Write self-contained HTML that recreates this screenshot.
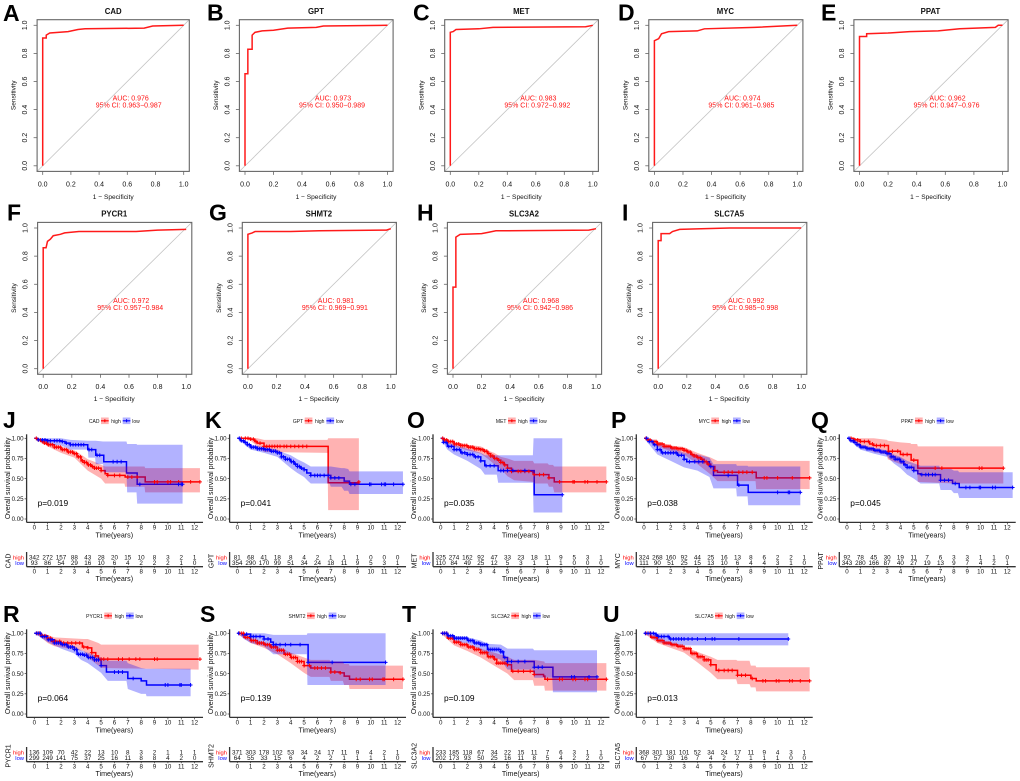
<!DOCTYPE html>
<html lang="en">
<head>
<meta charset="utf-8">
<title>ROC and Kaplan-Meier panels</title>
<style>
html,body{margin:0;padding:0;background:#fff;}
#figure{display:block;width:1020px;height:781px;font-family:"Liberation Sans",Arial,sans-serif;}
.letter{font-size:23px;font-weight:bold;fill:#000;}
.rt{font-size:7.8px;font-weight:bold;text-anchor:middle;fill:#111;}
.ra{font-size:7px;text-anchor:middle;fill:#f11;}
.rl{font-size:6.6px;text-anchor:middle;fill:#111;}
.rtick{font-size:7px;text-anchor:middle;fill:#111;}
.kt{font-size:7.1px;text-anchor:middle;fill:#111;}
.ky{font-size:7px;text-anchor:middle;fill:#111;}
.kg{font-size:5px;text-anchor:end;fill:#111;}
.kl{font-size:5px;text-anchor:middle;fill:#111;}
.kp{font-size:8.4px;fill:#000;}
.ktick{font-size:6.2px;fill:#111;}
.hi{font-size:5.8px;text-anchor:end;fill:#f00;}
.lo{font-size:5.8px;text-anchor:end;fill:#00f;}
.kr{font-size:6.3px;text-anchor:middle;fill:#111;}
</style>
</head>
<body>
<svg id="figure" xmlns="http://www.w3.org/2000/svg" width="1020" height="781" viewBox="0 0 1020 781">
<text class="letter" x="3" y="21">A</text>
<text class="letter" x="207" y="20.5">B</text>
<text class="letter" x="413" y="20.5">C</text>
<text class="letter" x="618" y="20.5">D</text>
<text class="letter" x="821" y="20.5">E</text>
<text class="letter" x="7" y="220.5">F</text>
<text class="letter" x="209" y="220.5">G</text>
<text class="letter" x="417" y="220.5">H</text>
<text class="letter" x="622" y="220.5">I</text>
<text class="letter" x="3" y="428">J</text>
<text class="letter" x="205" y="428">K</text>
<text class="letter" x="407" y="428">O</text>
<text class="letter" x="611" y="428">P</text>
<text class="letter" x="811" y="428">Q</text>
<text class="letter" x="3" y="622">R</text>
<text class="letter" x="200" y="622">S</text>
<text class="letter" x="402" y="622">T</text>
<text class="letter" x="603" y="622">U</text>

<g id="roc-cad" transform="translate(42.7,25.3)">
<text class="rt" x="70.5" y="-11.5">CAD</text>
<text class="ra" x="88" y="75">AUC: 0.976</text>
<text class="ra" x="86" y="82">95% CI: 0.963−0.987</text>
<text class="rl" x="70.5" y="173.5">1 − Specificity</text>
<text class="rl" transform="translate(-27,70) rotate(-90)">Sensitivity</text>
</g>
<g id="roc-gpt" transform="translate(245,25.3)">
<text class="rt" x="71" y="-11.5">GPT</text>
<text class="ra" x="88" y="75">AUC: 0.973</text>
<text class="ra" x="87" y="82">95% CI: 0.950−0.989</text>
<text class="rl" x="71" y="173.5">1 − Specificity</text>
<text class="rl" transform="translate(-27,70) rotate(-90)">Sensitivity</text>
</g>
<g id="roc-met" transform="translate(450.3,25.3)">
<text class="rt" x="71" y="-11.5">MET</text>
<text class="ra" x="88" y="75">AUC: 0.983</text>
<text class="ra" x="87" y="82">95% CI: 0.972−0.992</text>
<text class="rl" x="71" y="173.5">1 − Specificity</text>
<text class="rl" transform="translate(-27,70) rotate(-90)">Sensitivity</text>
</g>
<g id="roc-myc" transform="translate(654.4,25.3)">
<text class="rt" x="71" y="-11.5">MYC</text>
<text class="ra" x="88" y="75">AUC: 0.974</text>
<text class="ra" x="87" y="82">95% CI: 0.961−0.985</text>
<text class="rl" x="71" y="173.5">1 − Specificity</text>
<text class="rl" transform="translate(-27,70) rotate(-90)">Sensitivity</text>
</g>
<g id="roc-ppat" transform="translate(859.5,25.3)">
<text class="rt" x="71" y="-11.5">PPAT</text>
<text class="ra" x="88" y="75">AUC: 0.962</text>
<text class="ra" x="87" y="82">95% CI: 0.947−0.976</text>
<text class="rl" x="71" y="173.5">1 − Specificity</text>
<text class="rl" transform="translate(-27,70) rotate(-90)">Sensitivity</text>
</g>
<g id="roc-pycr1" transform="translate(43.2,228)">
<text class="rt" x="71" y="-11.5">PYCR1</text>
<text class="ra" x="88" y="75">AUC: 0.972</text>
<text class="ra" x="87" y="82">95% CI: 0.957−0.984</text>
<text class="rl" x="71" y="173">1 − Specificity</text>
<text class="rl" transform="translate(-27,70) rotate(-90)">Sensitivity</text>
</g>
<g id="roc-shmt2" transform="translate(247.9,228)">
<text class="rt" x="71" y="-11.5">SHMT2</text>
<text class="ra" x="88" y="75">AUC: 0.981</text>
<text class="ra" x="87" y="82">95% CI: 0.969−0.991</text>
<text class="rl" x="71" y="173">1 − Specificity</text>
<text class="rl" transform="translate(-27,70) rotate(-90)">Sensitivity</text>
</g>
<g id="roc-slc3a2" transform="translate(453,228)">
<text class="rt" x="71" y="-11.5">SLC3A2</text>
<text class="ra" x="88" y="75">AUC: 0.968</text>
<text class="ra" x="87" y="82">95% CI: 0.942−0.986</text>
<text class="rl" x="71" y="173">1 − Specificity</text>
<text class="rl" transform="translate(-27,70) rotate(-90)">Sensitivity</text>
</g>
<g id="roc-slc7a5" transform="translate(658.2,228)">
<text class="rt" x="71" y="-11.5">SLC7A5</text>
<text class="ra" x="88" y="75">AUC: 0.992</text>
<text class="ra" x="87" y="82">95% CI: 0.985−0.998</text>
<text class="rl" x="71" y="173">1 − Specificity</text>
<text class="rl" transform="translate(-27,70) rotate(-90)">Sensitivity</text>
</g>

<g id="km-cad" transform="translate(34.3,438.3)">
<text class="kg" x="65.2" y="-15.5">CAD</text>
<text class="kl" x="81.7" y="-15.5">high</text>
<text class="kl" x="101.7" y="-15.5">low</text>
<text class="kp" x="3.3" y="67.7">p=0.019</text>
<text class="ky" transform="translate(-24.5,40) rotate(-90)">Overall survival probability</text>
<text class="kt" x="80" y="99.2">Time(years)</text>
<text class="ky" transform="translate(-24,122.7) rotate(-90)">CAD</text>
<text class="hi" x="-10.3" y="121">high</text>
<text class="lo" x="-10.3" y="126.7">low</text>
<text class="kt" x="80" y="142.5">Time(years)</text>
</g>
<g id="km-gpt" transform="translate(237.3,438.3)">
<text class="kg" x="65.9" y="-15.5">GPT</text>
<text class="kl" x="82.4" y="-15.5">high</text>
<text class="kl" x="102.4" y="-15.5">low</text>
<text class="kp" x="3.3" y="67.7">p=0.041</text>
<text class="ky" transform="translate(-24.5,40) rotate(-90)">Overall survival probability</text>
<text class="kt" x="80" y="99.2">Time(years)</text>
<text class="ky" transform="translate(-24,122.7) rotate(-90)">GPT</text>
<text class="hi" x="-10.3" y="121">high</text>
<text class="lo" x="-10.3" y="126.7">low</text>
<text class="kt" x="80" y="142.5">Time(years)</text>
</g>
<g id="km-met" transform="translate(440.7,438.3)">
<text class="kg" x="65.8" y="-15.5">MET</text>
<text class="kl" x="82.3" y="-15.5">high</text>
<text class="kl" x="102.3" y="-15.5">low</text>
<text class="kp" x="3.3" y="67.7">p=0.035</text>
<text class="ky" transform="translate(-24.5,40) rotate(-90)">Overall survival probability</text>
<text class="kt" x="80" y="99.2">Time(years)</text>
<text class="ky" transform="translate(-24,122.7) rotate(-90)">MET</text>
<text class="hi" x="-10.3" y="121">high</text>
<text class="lo" x="-10.3" y="126.7">low</text>
<text class="kt" x="80" y="142.5">Time(years)</text>
</g>
<g id="km-myc" transform="translate(644,438.3)">
<text class="kg" x="65.8" y="-15.5">MYC</text>
<text class="kl" x="82.3" y="-15.5">high</text>
<text class="kl" x="102.3" y="-15.5">low</text>
<text class="kp" x="3.3" y="67.7">p=0.038</text>
<text class="ky" transform="translate(-24.5,40) rotate(-90)">Overall survival probability</text>
<text class="kt" x="80" y="99.2">Time(years)</text>
<text class="ky" transform="translate(-24,122.7) rotate(-90)">MYC</text>
<text class="hi" x="-10.3" y="121">high</text>
<text class="lo" x="-10.3" y="126.7">low</text>
<text class="kt" x="80" y="142.5">Time(years)</text>
</g>
<g id="km-ppat" transform="translate(847,438.3)">
<text class="kg" x="66.5" y="-15.5">PPAT</text>
<text class="kl" x="83" y="-15.5">high</text>
<text class="kl" x="103" y="-15.5">low</text>
<text class="kp" x="3.3" y="67.7">p=0.045</text>
<text class="ky" transform="translate(-24.5,40) rotate(-90)">Overall survival probability</text>
<text class="kt" x="80" y="99.2">Time(years)</text>
<text class="ky" transform="translate(-24,122.7) rotate(-90)">PPAT</text>
<text class="hi" x="-10.3" y="121">high</text>
<text class="lo" x="-10.3" y="126.7">low</text>
<text class="kt" x="80" y="142.5">Time(years)</text>
</g>
<g id="km-pycr1" transform="translate(34.3,633.3)">
<text class="kg" x="68.5" y="-15.5">PYCR1</text>
<text class="kl" x="85" y="-15.5">high</text>
<text class="kl" x="105" y="-15.5">low</text>
<text class="kp" x="3.3" y="67.7">p=0.064</text>
<text class="ky" transform="translate(-24.5,40) rotate(-90)">Overall survival probability</text>
<text class="kt" x="80" y="99.2">Time(years)</text>
<text class="ky" transform="translate(-24,122.7) rotate(-90)">PYCR1</text>
<text class="hi" x="-10.3" y="121">high</text>
<text class="lo" x="-10.3" y="126.7">low</text>
<text class="kt" x="80" y="142.5">Time(years)</text>
</g>
<g id="km-shmt2" transform="translate(237.3,633.3)">
<text class="kg" x="68.2" y="-15.5">SHMT2</text>
<text class="kl" x="84.7" y="-15.5">high</text>
<text class="kl" x="104.7" y="-15.5">low</text>
<text class="kp" x="3.3" y="67.7">p=0.139</text>
<text class="ky" transform="translate(-24.5,40) rotate(-90)">Overall survival probability</text>
<text class="kt" x="80" y="99.2">Time(years)</text>
<text class="ky" transform="translate(-24,122.7) rotate(-90)">SHMT2</text>
<text class="hi" x="-10.3" y="121">high</text>
<text class="lo" x="-10.3" y="126.7">low</text>
<text class="kt" x="80" y="142.5">Time(years)</text>
</g>
<g id="km-slc3a2" transform="translate(440.7,633.3)">
<text class="kg" x="69.1" y="-15.5">SLC3A2</text>
<text class="kl" x="85.6" y="-15.5">high</text>
<text class="kl" x="105.6" y="-15.5">low</text>
<text class="kp" x="3.3" y="67.7">p=0.109</text>
<text class="ky" transform="translate(-24.5,40) rotate(-90)">Overall survival probability</text>
<text class="kt" x="80" y="99.2">Time(years)</text>
<text class="ky" transform="translate(-24,122.7) rotate(-90)">SLC3A2</text>
<text class="hi" x="-10.3" y="121">high</text>
<text class="lo" x="-10.3" y="126.7">low</text>
<text class="kt" x="80" y="142.5">Time(years)</text>
</g>
<g id="km-slc7a5" transform="translate(644,633.3)">
<text class="kg" x="69.5" y="-15.5">SLC7A5</text>
<text class="kl" x="86" y="-15.5">high</text>
<text class="kl" x="106" y="-15.5">low</text>
<text class="kp" x="3.3" y="67.7">p=0.013</text>
<text class="ky" transform="translate(-24.5,40) rotate(-90)">Overall survival probability</text>
<text class="kt" x="80" y="99.2">Time(years)</text>
<text class="ky" transform="translate(-24,122.7) rotate(-90)">SLC7A5</text>
<text class="hi" x="-10.3" y="121">high</text>
<text class="lo" x="-10.3" y="126.7">low</text>
<text class="kt" x="80" y="142.5">Time(years)</text>
</g>
</svg>
<script>
// ---------- ROC data ----------
const rocTicks = [0, 0.2, 0.4, 0.6, 0.8, 1];
const rocTickLabels = ['0.0', '0.2', '0.4', '0.6', '0.8', '1.0'];
const rocCadFpr = [0, 0, 0.025, 0.025, 0.05, 0.18, 0.25, 0.3, 0.72, 0.78, 1];
const rocCadTpr = [0, 0.91, 0.91, 0.93, 0.945, 0.955, 0.97, 0.975, 0.98, 0.995, 1];
const rocGptFpr = [0, 0, 0.02, 0.02, 0.05, 0.05, 0.07, 0.12, 0.2, 0.3, 0.5, 0.55, 1];
const rocGptTpr = [0, 0.655, 0.655, 0.83, 0.83, 0.93, 0.95, 0.96, 0.965, 0.98, 0.985, 0.995, 1];
const rocMetFpr = [0, 0, 0.02, 0.04, 0.2, 0.3, 0.95, 1];
const rocMetTpr = [0, 0.95, 0.955, 0.97, 0.975, 0.985, 0.99, 1];
const rocMycFpr = [0, 0, 0.03, 0.05, 0.1, 0.3, 0.35, 0.7, 1];
const rocMycTpr = [0, 0.89, 0.905, 0.94, 0.955, 0.96, 0.975, 0.985, 1];
const rocPpatFpr = [0, 0, 0.05, 0.05, 0.2, 0.35, 0.55, 0.7, 0.95, 0.97, 1];
const rocPpatTpr = [0, 0.92, 0.92, 0.94, 0.945, 0.955, 0.96, 0.975, 0.985, 1, 1];
const rocPycr1Fpr = [0, 0, 0.02, 0.03, 0.05, 0.07, 0.12, 0.15, 0.25, 0.65, 0.8, 1];
const rocPycr1Tpr = [0, 0.86, 0.86, 0.905, 0.92, 0.945, 0.955, 0.965, 0.975, 0.975, 0.985, 0.99];
const rocShmt2Fpr = [0, 0, 0.03, 0.05, 0.3, 0.5, 0.97, 1];
const rocShmt2Tpr = [0, 0.955, 0.965, 0.975, 0.975, 0.98, 0.985, 0.995];
const rocSlc3a2Fpr = [0, 0, 0.02, 0.02, 0.05, 0.2, 0.25, 0.3, 0.95, 1];
const rocSlc3a2Tpr = [0, 0.58, 0.58, 0.935, 0.955, 0.96, 0.97, 0.98, 0.985, 0.995];
const rocSlc7a5Fpr = [0, 0, 0.02, 0.02, 0.08, 0.1, 0.15, 0.3, 0.5, 1];
const rocSlc7a5Tpr = [0, 0.91, 0.91, 0.96, 0.96, 0.975, 0.99, 0.995, 1, 1];

// ---------- Survival axes ----------
const kmTimeTicks = [0, 1, 2, 3, 4, 5, 6, 7, 8, 9, 10, 11, 12];
const kmProbTicks = [0, 0.25, 0.5, 0.75, 1];
const kmProbLabels = ['0.00', '0.25', '0.50', '0.75', '1.00'];
const earlyCensorTimes = [0.15, 0.3, 0.45, 0.6, 0.75, 0.9, 1.05, 1.2, 1.35, 1.5, 1.65, 1.8, 1.95, 2.1, 2.25, 2.4, 2.55, 2.7, 2.85, 3, 3.15, 3.3, 3.45, 3.6, 3.75, 3.9, 4.05, 4.2, 4.35, 4.5, 4.65, 4.8, 5];

// ---------- CAD ----------
const cadHighT = [0, 0.25, 0.5, 0.75, 1, 1.5, 2, 2.5, 2.9, 3.2, 3.5, 3.75, 4, 4.25, 4.5, 5, 5.3, 5.5, 6.8, 8.3, 12.4];
const cadHighS = [1, 0.98, 0.96, 0.94, 0.92, 0.89, 0.86, 0.83, 0.81, 0.77, 0.72, 0.7, 0.67, 0.65, 0.63, 0.6, 0.56, 0.54, 0.52, 0.46, 0.46];
const cadHighBandT = [0, 0.5, 1, 2, 3, 3.5, 4, 4.5, 5, 5.3, 6.75, 6.8, 8.25, 8.3, 12.4];
const cadHighU = [1, 0.98, 0.96, 0.9, 0.85, 0.8, 0.74, 0.71, 0.67, 0.65, 0.65, 0.65, 0.65, 0.63, 0.63];
const cadHighL = [1, 0.96, 0.9, 0.82, 0.76, 0.68, 0.6, 0.55, 0.5, 0.44, 0.44, 0.4, 0.4, 0.33, 0.33];
const cadHighCensor = earlyCensorTimes.concat([5.5, 6, 6.4, 7, 7.3, 7.7, 9, 9.2, 10, 10.2, 10.8, 11.7, 12.4]);
const cadLowT = [0, 0.25, 1, 2, 2.3, 2.7, 4, 4.6, 5.2, 6.9, 7.7, 11.1];
const cadLowS = [1, 0.98, 0.97, 0.96, 0.94, 0.92, 0.86, 0.79, 0.71, 0.57, 0.43, 0.43];
const cadLowBandT = [0, 0.5, 1, 2, 2.7, 4, 4.05, 4.55, 4.6, 5.15, 5.2, 6.9, 6.95, 7.65, 7.7, 11.1];
const cadLowU = [1, 1, 1, 1, 0.98, 0.97, 0.97, 0.97, 0.97, 0.96, 0.96, 0.96, 0.93, 0.93, 0.92, 0.92];
const cadLowL = [1, 0.95, 0.93, 0.91, 0.86, 0.86, 0.76, 0.76, 0.68, 0.68, 0.58, 0.58, 0.33, 0.33, 0.19, 0.19];
const cadLowCensor = [0.3, 0.6, 0.8, 1, 1.2, 1.5, 1.7, 1.9, 2.1, 2.4, 2.7, 2.9, 3.1, 3.3, 3.5, 3.7, 4.1, 4.3, 4.7, 4.9, 5.9, 6.2, 6.5, 7.9, 10.8, 11, 11.1];
const cadRiskHigh = ['342', '272', '157', '88', '43', '28', '20', '15', '10', '8', '3', '2', '1'];
const cadRiskLow = ['93', '86', '54', '29', '16', '10', '6', '4', '2', '2', '2', '1', '0'];

// ---------- GPT ----------
const gptHighT = [0, 0.5, 1, 1.3, 1.5, 2, 6.8, 9.1];
const gptHighS = [1, 1, 0.99, 0.96, 0.94, 0.9, 0.45, 0.46];
const gptHighBandT = [0, 0.5, 1, 1.5, 2, 6.75, 6.8, 9.1];
const gptHighU = [1, 1, 1, 1, 0.98, 0.98, 1, 1];
const gptHighL = [1, 0.99, 0.97, 0.9, 0.83, 0.82, 0.11, 0.11];
const gptHighCensor = [0.3, 0.6, 0.8, 1, 1.2, 1.4, 1.7, 2, 2.2, 2.4, 2.6, 2.8, 3, 3.2, 3.5, 3.7, 4, 4.3, 4.6, 4.9, 5.2, 9.1];
const gptLowT = [0, 0.25, 0.5, 0.75, 1, 1.5, 2, 2.5, 3, 3.3, 3.6, 4, 4.25, 4.5, 4.75, 5, 5.2, 5.5, 7, 8, 8.4, 12.4];
const gptLowS = [1, 0.97, 0.95, 0.92, 0.89, 0.87, 0.86, 0.84, 0.82, 0.77, 0.74, 0.71, 0.68, 0.65, 0.63, 0.61, 0.57, 0.54, 0.51, 0.47, 0.43, 0.43];
const gptLowBandT = [0, 0.5, 1, 2, 3, 3.5, 4, 4.5, 5, 5.3, 5.5, 6.9, 7, 7.8, 8, 8.3, 8.4, 12.4];
const gptLowU = [1, 0.97, 0.92, 0.89, 0.86, 0.82, 0.79, 0.74, 0.7, 0.67, 0.65, 0.65, 0.65, 0.63, 0.63, 0.62, 0.59, 0.59];
const gptLowL = [1, 0.93, 0.86, 0.82, 0.77, 0.7, 0.63, 0.57, 0.52, 0.47, 0.44, 0.44, 0.4, 0.4, 0.35, 0.35, 0.31, 0.31];
const gptLowCensor = earlyCensorTimes.concat([5.5, 5.8, 6, 6.2, 6.5, 6.8, 7, 7.3, 7.6, 8.5, 8.8, 9.9, 10, 10.8, 11, 11.1, 11.7, 12.4]);
const gptRiskHigh = ['81', '68', '41', '18', '8', '4', '2', '1', '1', '1', '0', '0', '0'];
const gptRiskLow = ['354', '290', '170', '99', '51', '34', '24', '18', '11', '9', '5', '3', '1'];

// ---------- MET ----------
const metHighT = [0, 0.25, 0.5, 1, 1.5, 2, 2.5, 3, 3.25, 3.5, 3.75, 4, 4.25, 4.5, 4.75, 5, 5.3, 6.9, 7, 8.1, 8.5, 12.4];
const metHighS = [1, 0.98, 0.96, 0.93, 0.91, 0.89, 0.87, 0.86, 0.84, 0.81, 0.78, 0.75, 0.73, 0.7, 0.67, 0.63, 0.59, 0.57, 0.55, 0.51, 0.46, 0.46];
const metHighBandT = [0, 0.5, 1, 2, 3, 3.5, 4, 4.5, 5, 5.5, 6.9, 7, 8, 8.1, 8.4, 8.5, 12.4];
const metHighU = [1, 0.98, 0.95, 0.92, 0.9, 0.85, 0.82, 0.77, 0.75, 0.72, 0.72, 0.69, 0.69, 0.67, 0.67, 0.65, 0.65];
const metHighL = [1, 0.94, 0.9, 0.85, 0.81, 0.75, 0.68, 0.62, 0.53, 0.48, 0.46, 0.44, 0.44, 0.4, 0.4, 0.33, 0.33];
const metHighCensor = earlyCensorTimes.concat([5.3, 5.8, 6, 6.3, 6.6, 7, 7.4, 7.7, 8.1, 8.9, 9.9, 10, 10.8, 11, 11.7, 12.4]);
const metLowT = [0, 0.2, 0.5, 1, 1.5, 2, 2.5, 3, 3.3, 4.3, 7, 9.1];
const metLowS = [1, 0.95, 0.9, 0.86, 0.82, 0.8, 0.77, 0.72, 0.66, 0.6, 0.3, 0.3];
const metLowBandT = [0, 0.5, 1, 2, 3, 3.3, 4.2, 4.3, 6.9, 6.95, 9.1];
const metLowU = [1, 0.95, 0.92, 0.87, 0.82, 0.79, 0.79, 0.79, 0.79, 1, 1];
const metLowL = [1, 0.86, 0.8, 0.72, 0.62, 0.55, 0.55, 0.45, 0.45, 0.08, 0.08];
const metLowCensor = [0.2, 0.4, 0.6, 0.8, 1, 1.2, 1.4, 1.6, 1.8, 2, 2.2, 2.4, 2.6, 2.8, 3, 3.4, 3.7, 4, 4.5, 4.7, 5, 5.4, 6.3, 9.1];
const metRiskHigh = ['325', '274', '162', '92', '47', '33', '23', '18', '11', '9', '5', '3', '1'];
const metRiskLow = ['110', '84', '49', '25', '12', '5', '3', '1', '1', '1', '0', '0', '0'];

// ---------- MYC ----------
const mycHighT = [0, 0.25, 0.5, 1, 1.5, 2, 2.5, 3, 3.25, 3.5, 3.75, 4, 4.25, 4.5, 4.75, 5, 5.3, 5.5, 8.4, 12.4];
const mycHighS = [1, 0.98, 0.96, 0.93, 0.9, 0.88, 0.87, 0.85, 0.83, 0.8, 0.78, 0.76, 0.74, 0.71, 0.68, 0.65, 0.6, 0.58, 0.51, 0.51];
const mycHighBandT = [0, 1, 2, 3, 4, 5, 5.5, 8.35, 8.4, 12.4];
const mycHighU = [1, 0.96, 0.91, 0.89, 0.82, 0.76, 0.72, 0.72, 0.72, 0.72];
const mycHighL = [1, 0.9, 0.84, 0.8, 0.68, 0.55, 0.47, 0.47, 0.37, 0.37];
const mycHighCensor = earlyCensorTimes.concat([5.3, 6, 6.3, 6.6, 7.1, 7.4, 7.7, 8.1, 9, 9.2, 10, 11.1, 12.4]);
const mycLowT = [0, 0.3, 0.7, 1, 1.3, 2.3, 2.5, 3, 3.2, 4.2, 4.9, 5.2, 7, 7.8, 11.7];
const mycLowS = [1, 0.96, 0.92, 0.86, 0.82, 0.82, 0.79, 0.74, 0.71, 0.71, 0.65, 0.54, 0.42, 0.33, 0.33];
const mycLowBandT = [0, 0.5, 1, 2, 3, 4, 4.9, 5.2, 6.9, 6.95, 7.75, 7.8, 11.7];
const mycLowU = [1, 0.97, 0.93, 0.89, 0.82, 0.8, 0.76, 0.68, 0.68, 0.66, 0.66, 0.65, 0.65];
const mycLowL = [1, 0.9, 0.8, 0.72, 0.64, 0.6, 0.52, 0.38, 0.38, 0.28, 0.28, 0.17, 0.17];
const mycLowCensor = [0.2, 0.4, 0.6, 0.8, 1, 1.2, 1.4, 1.6, 1.8, 2, 2.2, 2.4, 2.6, 2.8, 3, 3.4, 3.8, 4.1, 4.4, 5, 6.3, 7.1, 10, 10.8, 10.9, 11.7];
const mycRiskHigh = ['324', '268', '160', '92', '44', '25', '16', '13', '8', '6', '2', '2', '1'];
const mycRiskLow = ['111', '90', '51', '25', '15', '13', '10', '6', '4', '4', '3', '1', '0'];

// ---------- PPAT ----------
const ppatHighT = [0, 0.5, 1, 1.7, 2, 3.1, 4, 4.8, 5.3, 11.7];
const ppatHighS = [1, 0.98, 0.96, 0.93, 0.91, 0.84, 0.8, 0.73, 0.63, 0.63];
const ppatHighBandT = [0, 0.5, 2, 3, 3.05, 4, 4.75, 4.8, 5.25, 5.3, 8, 11.7];
const ppatHighU = [1, 1, 1, 0.98, 0.97, 0.95, 0.94, 0.93, 0.93, 0.9, 0.9, 0.9];
const ppatHighL = [1, 0.95, 0.83, 0.8, 0.74, 0.68, 0.68, 0.6, 0.6, 0.46, 0.44, 0.44];
const ppatHighCensor = [0.3, 0.6, 0.8, 1, 1.3, 1.6, 1.9, 2.2, 2.5, 2.8, 3.1, 3.4, 3.8, 4.2, 4.5, 5, 6.6, 7.1, 9.9, 10.1, 11.7];
const ppatLowT = [0, 0.25, 0.5, 0.75, 1, 1.5, 2, 2.5, 3, 3.3, 3.6, 4, 4.25, 4.5, 5, 5.3, 5.5, 7, 7.9, 8.4, 12.4];
const ppatLowS = [1, 0.97, 0.95, 0.92, 0.89, 0.87, 0.85, 0.83, 0.81, 0.77, 0.74, 0.71, 0.67, 0.64, 0.6, 0.56, 0.55, 0.48, 0.44, 0.39, 0.39];
const ppatLowBandT = [0, 1, 2, 3, 3.5, 4, 4.5, 5, 5.5, 6.9, 7, 7.8, 8, 8.3, 8.4, 12.4];
const ppatLowU = [1, 0.92, 0.88, 0.85, 0.8, 0.77, 0.72, 0.69, 0.66, 0.66, 0.62, 0.62, 0.6, 0.6, 0.58, 0.58];
const ppatLowL = [1, 0.86, 0.81, 0.77, 0.69, 0.63, 0.55, 0.5, 0.44, 0.44, 0.36, 0.36, 0.32, 0.32, 0.26, 0.26];
const ppatLowCensor = earlyCensorTimes.concat([5.6, 5.9, 6.1, 6.4, 6.6, 7, 7.3, 7.6, 8.1, 8.9, 9.2, 9.9, 10, 10.9, 11.1, 12.4]);
const ppatRiskHigh = ['92', '78', '45', '30', '19', '11', '7', '6', '3', '3', '1', '1', '0'];
const ppatRiskLow = ['343', '280', '166', '87', '40', '27', '19', '13', '9', '7', '4', '2', '1'];

// ---------- PYCR1 ----------
const pycr1HighT = [0, 0.5, 1, 1.3, 2, 3.6, 4, 4.3, 4.6, 4.8, 12.3];
const pycr1HighS = [1, 0.97, 0.94, 0.9, 0.88, 0.83, 0.82, 0.76, 0.72, 0.68, 0.68];
const pycr1HighBandT = [0, 0.5, 1, 1.5, 3.7, 4, 4.8, 5, 12.3];
const pycr1HighU = [1, 1, 0.98, 0.95, 0.93, 0.93, 0.88, 0.86, 0.86];
const pycr1HighL = [1, 0.95, 0.88, 0.84, 0.78, 0.7, 0.6, 0.57, 0.55];
const pycr1HighCensor = [0.2, 0.4, 0.6, 0.8, 1, 1.2, 1.4, 1.6, 1.9, 2.2, 2.5, 2.8, 3.1, 3.4, 3.7, 4, 4.3, 4.6, 5, 5.2, 5.5, 6.3, 6.6, 7.1, 7.6, 7.9, 9, 9.2, 12.4];
const pycr1LowT = [0, 0.5, 1, 1.5, 2, 2.5, 3, 3.2, 3.7, 4, 4.5, 5, 5.4, 7, 8, 8.4, 11.7];
const pycr1LowS = [1, 0.96, 0.92, 0.88, 0.86, 0.83, 0.8, 0.74, 0.73, 0.7, 0.67, 0.6, 0.52, 0.44, 0.41, 0.36, 0.36];
const pycr1LowBandT = [0, 1, 2, 3, 3.5, 4, 5, 5.5, 6.9, 7, 8, 8.35, 8.4, 11.7];
const pycr1LowU = [1, 0.95, 0.9, 0.84, 0.79, 0.76, 0.7, 0.66, 0.66, 0.63, 0.57, 0.56, 0.56, 0.56];
const pycr1LowL = [1, 0.89, 0.81, 0.75, 0.67, 0.63, 0.51, 0.41, 0.41, 0.31, 0.25, 0.25, 0.22, 0.22];
const pycr1LowCensor = earlyCensorTimes.concat([6, 6.3, 6.6, 7.4, 9.8, 10, 10.9, 11, 11.7]);
const pycr1RiskHigh = ['136', '109', '70', '42', '22', '13', '10', '8', '3', '2', '1', '1', '1'];
const pycr1RiskLow = ['299', '249', '141', '75', '37', '25', '16', '11', '8', '8', '4', '2', '0'];

// ---------- SHMT2 ----------
const shmt2HighT = [0, 0.5, 1, 1.5, 2, 2.5, 3, 3.5, 4, 4.5, 5, 5.5, 7, 7.7, 8, 8.4, 12.4];
const shmt2HighS = [1, 0.95, 0.91, 0.88, 0.86, 0.83, 0.79, 0.74, 0.7, 0.65, 0.6, 0.57, 0.52, 0.51, 0.47, 0.43, 0.43];
const shmt2HighBandT = [0, 1, 2, 3, 4, 5, 5.5, 6.9, 7, 7.9, 8, 8.35, 8.4, 12.4];
const shmt2HighU = [1, 0.93, 0.89, 0.84, 0.76, 0.7, 0.67, 0.67, 0.65, 0.65, 0.62, 0.62, 0.6, 0.6];
const shmt2HighL = [1, 0.88, 0.82, 0.74, 0.63, 0.51, 0.46, 0.46, 0.41, 0.41, 0.36, 0.36, 0.31, 0.31];
const shmt2HighCensor = earlyCensorTimes.concat([5.4, 5.8, 6, 6.3, 6.6, 7, 7.3, 7.7, 8.9, 9.2, 9.9, 10.1, 10.9, 11, 11.7, 12.4]);
const shmt2LowT = [0, 0.4, 0.7, 1, 2, 2.5, 2.7, 5.3, 11.1];
const shmt2LowS = [1, 0.98, 0.99, 0.96, 0.93, 0.89, 0.86, 0.64, 0.64];
const shmt2LowBandT = [0, 0.5, 1, 2, 2.7, 5.2, 5.25, 11.1];
const shmt2LowU = [1, 1, 1, 1, 0.98, 0.98, 1, 1];
const shmt2LowL = [1, 0.93, 0.88, 0.84, 0.74, 0.74, 0.36, 0.36];
const shmt2LowCensor = [0.1, 0.7, 1, 1.2, 1.4, 1.7, 2, 2.3, 2.7, 2.9, 3.2, 3.6, 4, 4.7, 5.3, 7.1, 11.1];
const shmt2RiskHigh = ['371', '303', '178', '102', '53', '34', '24', '17', '11', '9', '4', '2', '1'];
const shmt2RiskLow = ['64', '55', '33', '15', '6', '4', '2', '2', '1', '1', '1', '1', '0'];

// ---------- SLC3A2 ----------
const slc3a2HighT = [0, 0.5, 1, 1.5, 2, 2.5, 3, 3.5, 4, 4.2, 5, 5.3, 7, 7.7, 7.8, 12.4];
const slc3a2HighS = [1, 0.94, 0.89, 0.86, 0.83, 0.8, 0.76, 0.71, 0.68, 0.63, 0.61, 0.53, 0.49, 0.47, 0.43, 0.43];
const slc3a2HighBandT = [0, 1, 2, 3, 4, 5, 5.5, 6.9, 7, 7.75, 7.8, 12.4];
const slc3a2HighU = [1, 0.92, 0.87, 0.81, 0.76, 0.71, 0.67, 0.67, 0.67, 0.65, 0.63, 0.63];
const slc3a2HighL = [1, 0.85, 0.78, 0.7, 0.6, 0.5, 0.42, 0.42, 0.35, 0.35, 0.29, 0.29];
const slc3a2HighCensor = earlyCensorTimes.concat([5.4, 5.8, 6.2, 6.7, 7, 8, 8.9, 9.1, 9.9, 10.1, 10.8, 11, 12.4]);
const slc3a2LowT = [0, 0.5, 1, 2, 2.5, 3, 3.5, 4.5, 4.7, 5, 7, 8.4, 11.7];
const slc3a2LowS = [1, 0.97, 0.94, 0.91, 0.88, 0.86, 0.8, 0.77, 0.7, 0.65, 0.58, 0.46, 0.46];
const slc3a2LowBandT = [0, 1, 2, 3, 3.5, 4.5, 5, 6.9, 7, 8.35, 8.4, 11.7];
const slc3a2LowU = [1, 0.97, 0.95, 0.91, 0.87, 0.86, 0.81, 0.81, 0.79, 0.79, 0.79, 0.79];
const slc3a2LowL = [1, 0.91, 0.87, 0.8, 0.74, 0.67, 0.55, 0.55, 0.45, 0.45, 0.27, 0.27];
const slc3a2LowCensor = earlyCensorTimes.concat([5.3, 5.8, 6.3, 7, 7.3, 7.6, 9.8, 10, 11.1, 11.7]);
const slc3a2RiskHigh = ['233', '185', '118', '67', '34', '22', '15', '11', '7', '6', '3', '1', '1'];
const slc3a2RiskLow = ['202', '173', '93', '50', '25', '16', '11', '8', '5', '4', '2', '2', '0'];

// ---------- SLC7A5 ----------
const slc7a5HighT = [0, 0.5, 1, 1.5, 2, 2.5, 3, 3.5, 4, 4.5, 5, 5.4, 7, 8, 8.4, 12.4];
const slc7a5HighS = [1, 0.95, 0.91, 0.88, 0.86, 0.84, 0.81, 0.75, 0.71, 0.67, 0.61, 0.54, 0.48, 0.44, 0.41, 0.41];
const slc7a5HighBandT = [0, 1, 2, 3, 4, 5, 5.5, 6.9, 7, 7.9, 8, 8.35, 8.4, 12.4];
const slc7a5HighU = [1, 0.93, 0.88, 0.84, 0.77, 0.71, 0.67, 0.67, 0.66, 0.66, 0.6, 0.6, 0.58, 0.58];
const slc7a5HighL = [1, 0.88, 0.82, 0.76, 0.64, 0.51, 0.43, 0.43, 0.37, 0.37, 0.33, 0.33, 0.28, 0.28];
const slc7a5HighCensor = earlyCensorTimes.concat([5.6, 6, 6.3, 6.6, 7, 7.3, 7.6, 8.1, 8.9, 9.1, 9.9, 10.1, 10.9, 11.1, 11.7, 12.4]);
const slc7a5LowT = [0, 0.9, 1, 1.9, 10.8];
const slc7a5LowS = [1, 0.98, 0.96, 0.93, 0.93];
const slc7a5LowBandT = [0, 0.5, 1, 1.9, 10.8];
const slc7a5LowU = [1, 1, 1, 1, 1];
const slc7a5LowL = [1, 0.96, 0.9, 0.85, 0.85];
const slc7a5LowCensor = [0.1, 0.3, 0.5, 0.7, 0.9, 1.1, 1.3, 1.5, 1.8, 2, 2.2, 2.4, 2.6, 2.8, 3, 3.3, 3.6, 4, 4.6, 5.1, 5.3, 7.1, 10.8];
const slc7a5RiskHigh = ['368', '301', '181', '101', '52', '34', '24', '17', '11', '9', '4', '3', '1'];
const slc7a5RiskLow = ['67', '57', '30', '16', '7', '4', '2', '2', '1', '1', '1', '0', '0'];

// ---------- Wiring (references only) ----------
const rocPanels = [
  {key: 'cad', fpr: rocCadFpr, tpr: rocCadTpr, w: 141, h: 140.5},
  {key: 'gpt', fpr: rocGptFpr, tpr: rocGptTpr, w: 142.5, h: 140.5},
  {key: 'met', fpr: rocMetFpr, tpr: rocMetTpr, w: 142.5, h: 140.5},
  {key: 'myc', fpr: rocMycFpr, tpr: rocMycTpr, w: 142.9, h: 140.5},
  {key: 'ppat', fpr: rocPpatFpr, tpr: rocPpatTpr, w: 143, h: 140.5},
  {key: 'pycr1', fpr: rocPycr1Fpr, tpr: rocPycr1Tpr, w: 143, h: 140.7},
  {key: 'shmt2', fpr: rocShmt2Fpr, tpr: rocShmt2Tpr, w: 142.9, h: 140.7},
  {key: 'slc3a2', fpr: rocSlc3a2Fpr, tpr: rocSlc3a2Tpr, w: 143, h: 140.7},
  {key: 'slc7a5', fpr: rocSlc7a5Fpr, tpr: rocSlc7a5Tpr, w: 143, h: 140.7}
];
const kmPanels = [
  {key: 'cad', sw: 66.7, high: [cadHighT, cadHighS, cadHighBandT, cadHighU, cadHighL, cadHighCensor], low: [cadLowT, cadLowS, cadLowBandT, cadLowU, cadLowL, cadLowCensor], rh: cadRiskHigh, rl: cadRiskLow},
  {key: 'gpt', sw: 67.4, high: [gptHighT, gptHighS, gptHighBandT, gptHighU, gptHighL, gptHighCensor], low: [gptLowT, gptLowS, gptLowBandT, gptLowU, gptLowL, gptLowCensor], rh: gptRiskHigh, rl: gptRiskLow},
  {key: 'met', sw: 67.3, high: [metHighT, metHighS, metHighBandT, metHighU, metHighL, metHighCensor], low: [metLowT, metLowS, metLowBandT, metLowU, metLowL, metLowCensor], rh: metRiskHigh, rl: metRiskLow},
  {key: 'myc', sw: 67.3, high: [mycHighT, mycHighS, mycHighBandT, mycHighU, mycHighL, mycHighCensor], low: [mycLowT, mycLowS, mycLowBandT, mycLowU, mycLowL, mycLowCensor], rh: mycRiskHigh, rl: mycRiskLow},
  {key: 'ppat', sw: 68, high: [ppatHighT, ppatHighS, ppatHighBandT, ppatHighU, ppatHighL, ppatHighCensor], low: [ppatLowT, ppatLowS, ppatLowBandT, ppatLowU, ppatLowL, ppatLowCensor], rh: ppatRiskHigh, rl: ppatRiskLow},
  {key: 'pycr1', sw: 70, high: [pycr1HighT, pycr1HighS, pycr1HighBandT, pycr1HighU, pycr1HighL, pycr1HighCensor], low: [pycr1LowT, pycr1LowS, pycr1LowBandT, pycr1LowU, pycr1LowL, pycr1LowCensor], rh: pycr1RiskHigh, rl: pycr1RiskLow},
  {key: 'shmt2', sw: 69.7, high: [shmt2HighT, shmt2HighS, shmt2HighBandT, shmt2HighU, shmt2HighL, shmt2HighCensor], low: [shmt2LowT, shmt2LowS, shmt2LowBandT, shmt2LowU, shmt2LowL, shmt2LowCensor], rh: shmt2RiskHigh, rl: shmt2RiskLow},
  {key: 'slc3a2', sw: 70.6, high: [slc3a2HighT, slc3a2HighS, slc3a2HighBandT, slc3a2HighU, slc3a2HighL, slc3a2HighCensor], low: [slc3a2LowT, slc3a2LowS, slc3a2LowBandT, slc3a2LowU, slc3a2LowL, slc3a2LowCensor], rh: slc3a2RiskHigh, rl: slc3a2RiskLow},
  {key: 'slc7a5', sw: 71, high: [slc7a5HighT, slc7a5HighS, slc7a5HighBandT, slc7a5HighU, slc7a5HighL, slc7a5HighCensor], low: [slc7a5LowT, slc7a5LowS, slc7a5LowBandT, slc7a5LowU, slc7a5LowL, slc7a5LowCensor], rh: slc7a5RiskHigh, rl: slc7a5RiskLow}
];

const SVG_NS = 'http://www.w3.org/2000/svg';
function mk(tag, parent, attrs, text) {
  const el = document.createElementNS(SVG_NS, tag);
  for (const k in attrs) el.setAttribute(k, attrs[k]);
  if (text !== undefined) el.textContent = text;
  parent.appendChild(el);
  return el;
}

function drawRoc(p) {
  const g = document.getElementById('roc-' + p.key);
  const sx = v => v * p.w;
  const sy = v => p.h * (1 - v);
  const pad = 5.6;
  const left = sx(0) - pad, right = sx(1) + pad, top = sy(1) - pad, bottom = sy(0) + pad;
  const diag = mk('line', g, {x1: left, y1: bottom, x2: right, y2: top, stroke: '#c4c4c4', 'stroke-width': 0.8});
  
  
  const box = mk('rect', g, {x: left, y: top, width: right - left, height: bottom - top, fill: 'none', stroke: '#666', 'stroke-width': 1.1});
  
  
  rocTicks.forEach((v, i) => {
    const tx = mk('line', g, {x1: sx(v), x2: sx(v), y1: bottom, y2: bottom + 3.5, stroke: '#666', 'stroke-width': 0.8});
    
    
    const lx = mk('text', g, {x: sx(v), y: 161, class: 'rtick'}, rocTickLabels[i]);
    
    
    const ty = mk('line', g, {x1: left - 3.5, x2: left, y1: sy(v), y2: sy(v), stroke: '#666', 'stroke-width': 0.8});
    
    
    const ly = mk('text', g, {class: 'rtick', transform: 'translate(-15.5,' + sy(v) + ') rotate(-90)'}, rocTickLabels[i]);
    
    
  });
  const pts = p.fpr.map((f, i) => sx(f).toFixed(2) + ',' + sy(p.tpr[i]).toFixed(2)).join(' ');
  const curve = mk('polyline', g, {points: pts, fill: 'none', stroke: '#ff1a1a', 'stroke-width': 1.5});
  
  
}

function stepValue(ts, ss, t) {
  let v = ss[0];
  for (let i = 0; i < ts.length; i++) { if (ts[i] <= t) v = ss[i]; }
  return v;
}

function drawKm(p) {
  const g = document.getElementById('km-' + p.key);
  const sx = t => t * 13.36;
  const sy = v => 80.7 * (1 - v);
  const axisX = sx(0) - 7.7, axisY = sy(0) + 3.4, axisEnd = sx(12) + 8.4;
  const colours = {high: '#ff0000', low: '#0000ff'};
  const strata = ['high', 'low'];

  strata.forEach(name => {
    const s = p[name];
    let d = 'M' + sx(s[0][0]).toFixed(2) + ' ' + sy(s[1][0]).toFixed(2);
    for (let i = 1; i < s[0].length; i++) {
      d += 'H' + sx(s[0][i]).toFixed(2) + 'V' + sy(s[1][i]).toFixed(2);
    }
    const line = mk('path', g, {d: d, fill: 'none', stroke: colours[name], 'stroke-width': 1.5});
    
    
  });
  strata.forEach(name => {
    const s = p[name];
    const upper = s[2].map((t, i) => sx(t).toFixed(2) + ',' + sy(s[3][i]).toFixed(2));
    const lower = s[2].map((t, i) => sx(t).toFixed(2) + ',' + sy(s[4][i]).toFixed(2)).reverse();
    const band = mk('polygon', g, {points: upper.concat(lower).join(' '), fill: colours[name], 'fill-opacity': 0.3});
    
    
  });
  strata.forEach(name => {
    const s = p[name];
    s[5].forEach(t => {
      const cx = sx(t), cy = sy(stepValue(s[0], s[1], t));
      const mark = mk('path', g, {d: 'M' + (cx - 1.9).toFixed(2) + ' ' + cy.toFixed(2) + 'h3.8M' + cx.toFixed(2) + ' ' + (cy - 1.9).toFixed(2) + 'v3.8', stroke: colours[name], 'stroke-width': 1, fill: 'none'});
      
      
    });
  });

  const yAxis = mk('line', g, {x1: axisX, x2: axisX, y1: -4, y2: axisY, stroke: '#333', 'stroke-width': 1.3});
  
  
  const xAxis = mk('line', g, {x1: axisX, x2: axisEnd, y1: axisY, y2: axisY, stroke: '#333', 'stroke-width': 1.3});
  
  
  kmProbTicks.forEach((v, i) => {
    const tick = mk('line', g, {x1: axisX - 2, x2: axisX, y1: sy(v), y2: sy(v), stroke: '#333', 'stroke-width': 0.7});
    
    
    const lab = mk('text', g, {x: axisX - 3, y: sy(v) + 2.2, class: 'ktick', 'text-anchor': 'end'}, kmProbLabels[i]);
    
    
  });
  const riskAxisY = 128.4;
  const riskYAxis = mk('line', g, {x1: axisX, x2: axisX, y1: 113.7, y2: riskAxisY, stroke: '#333', 'stroke-width': 1.3});
  
  
  const riskXAxis = mk('line', g, {x1: axisX, x2: axisEnd, y1: riskAxisY, y2: riskAxisY, stroke: '#333', 'stroke-width': 1.3});
  
  
  kmTimeTicks.forEach((t, i) => {
    const tick = mk('line', g, {x1: sx(t), x2: sx(t), y1: axisY, y2: axisY + 2, stroke: '#333', 'stroke-width': 0.7});
    
    
    const lab = mk('text', g, {x: sx(t), y: 91, class: 'ktick', 'text-anchor': 'middle'}, String(t));
    
    
    const rt = mk('line', g, {x1: sx(t), x2: sx(t), y1: riskAxisY, y2: riskAxisY + 1.5, stroke: '#333', 'stroke-width': 0.7});
    
    
    const rl = mk('text', g, {x: sx(t), y: 135.2, class: 'ktick', 'text-anchor': 'middle'}, String(t));
    
    
    const rh = mk('text', g, {x: sx(t), y: 121, class: 'kr'}, p.rh[i]);
    
    
    const rlo = mk('text', g, {x: sx(t), y: 126.7, class: 'kr'}, p.rl[i]);
    
    
  });

  strata.forEach((name, i) => {
    const kx = p.sw + i * 21.7;
    const swatch = mk('rect', g, {x: kx, y: -20.8, width: 7.7, height: 6.6, fill: colours[name], 'fill-opacity': 0.3});
    
    
    const key = mk('path', g, {d: 'M' + kx + ' -17.5h7.7M' + (kx + 3.85) + ' -19v3', stroke: colours[name], 'stroke-width': 1.1, fill: 'none'});
    
    
  });
}

rocPanels.forEach(drawRoc);
kmPanels.forEach(drawKm);
</script>
</body>
</html>
